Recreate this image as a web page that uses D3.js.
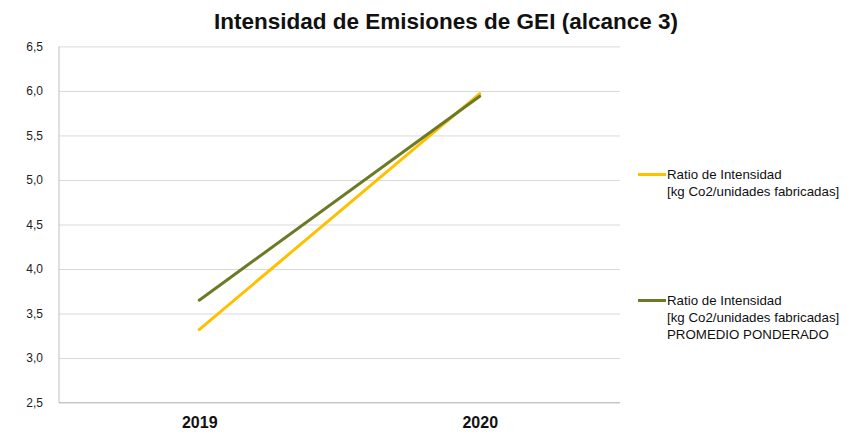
<!DOCTYPE html>
<html><head><meta charset="utf-8">
<script src="https://cdn.jsdelivr.net/npm/d3@7"></script>
<style>body{margin:0;background:#fff}svg{display:block;font-family:"Liberation Sans",Arial,sans-serif}</style>
</head><body><svg id="c" width="855" height="436"></svg>
<script>
const categories = ["2019", "2020"];
const seriesNames = [
  ["Ratio de Intensidad", "[kg Co2/unidades fabricadas]"],
  ["Ratio de Intensidad", "[kg Co2/unidades fabricadas]", "PROMEDIO PONDERADO"]
];
const ratioValues = [3.32, 5.97];
const promedioValues = [3.65, 5.94];
const yTicks = [2.5, 3.0, 3.5, 4.0, 4.5, 5.0, 5.5, 6.0, 6.5];
const colors = ["#FFC000", "#6B7B25"];

const svg = d3.select("#c");
const m = {l: 59, r: 620, t: 46.4, b: 402.6};
const x = d3.scalePoint().domain(categories).range([m.l, m.r]).padding(0.5);
const y = d3.scaleLinear().domain([2.5, 6.5]).range([m.b, m.t]);
const fmt = v => d3.format(".1f")(v).replace(".", ",");

svg.append("text").attr("x", 446).attr("y", 28.5).attr("text-anchor", "middle")
  .attr("font-size", 22.5).attr("font-weight", "bold").attr("fill", "#111").text("Intensidad de Emisiones de GEI (alcance 3)");

const gy = svg.append("g").attr("transform", `translate(${m.l},0)`)
  .call(d3.axisLeft(y).tickValues(yTicks).tickSize(-(m.r - m.l)).tickFormat(fmt).tickPadding(16));
gy.select(".domain").remove();
gy.selectAll(".tick line").attr("stroke", "#d9d9d9");
gy.selectAll(".tick text").attr("font-size", 12).attr("fill", "#222").attr("font-family", "Liberation Sans, Arial");

svg.append("line").attr("x1", m.l).attr("x2", m.l).attr("y1", m.t).attr("y2", m.b).attr("stroke", "#bfbfbf");
svg.append("line").attr("x1", m.l).attr("x2", m.r).attr("y1", m.b).attr("y2", m.b).attr("stroke", "#bfbfbf");

const gx = svg.append("g").attr("transform", `translate(0,${m.b})`)
  .call(d3.axisBottom(x).tickSize(0).tickPadding(14));
gx.select(".domain").remove();
gx.selectAll(".tick text").attr("font-size", 16).attr("font-weight", "bold").attr("fill", "#111").attr("font-family", "Liberation Sans, Arial");

const line = d3.line().x((d, i) => x(categories[i])).y(d => y(d));
[ratioValues, promedioValues].forEach((vals, i) => {
  svg.append("path").datum(vals).attr("d", line).attr("fill", "none")
    .attr("stroke", colors[i]).attr("stroke-width", 3).attr("stroke-linecap", "round");
});

const legY = [174.5, 300.5];
seriesNames.forEach((lines, i) => {
  const g = svg.append("g");
  g.append("line").attr("x1", 638).attr("x2", 666).attr("y1", legY[i]).attr("y2", legY[i])
    .attr("stroke", colors[i]).attr("stroke-width", 3);
  lines.forEach((t, j) => {
    g.append("text").attr("x", 667).attr("y", legY[i] + 4.5 + j * 17).attr("font-size", 13.3).attr("fill", "#111").text(t);
  });
});
</script></body></html>
